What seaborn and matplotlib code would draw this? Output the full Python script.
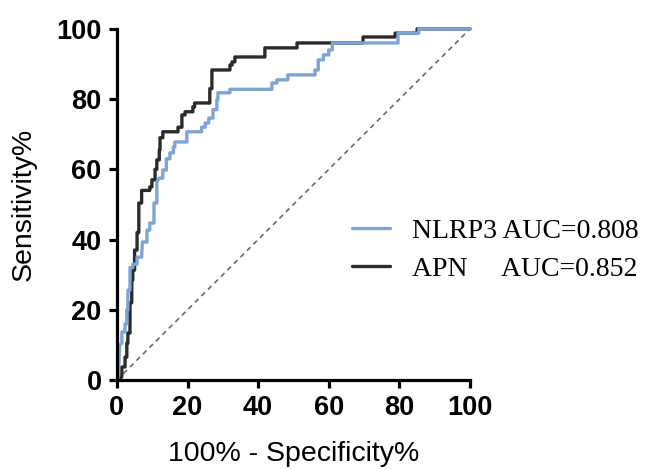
import pandas as pd
import matplotlib
matplotlib.use('Agg')
import matplotlib.pyplot as plt
import seaborn as sns

# ROC step curves (100% - specificity, sensitivity)
apn_fpr = [0, 0.5, 1.4, 1.4, 2.3, 2.3, 2.8, 2.8, 3.1, 3.1, 3.7, 3.7, 4.2, 4.2, 4.5, 4.5,
           5.0, 5.0, 5.7, 5.7, 6.2, 6.2, 7.0, 7.0, 9.3, 9.3, 9.9, 9.9, 10.8, 10.8,
           11.3, 11.3, 12.0, 12.0, 12.2, 12.2, 13.0, 13.0, 17.3, 17.3, 18.4, 18.4,
           19.3, 19.3, 21.5, 21.5, 22.0, 22.0, 26.3, 26.3, 26.9, 26.9, 32.0, 32.0,
           32.6, 32.6, 33.4, 33.4, 41.9, 41.9, 51.0, 51.0, 69.7, 69.7, 78.8, 78.8,
           85.0, 85.0, 100]
apn_tpr = [0, 0, 1.0, 3.7, 3.7, 6.5, 6.5, 10.5, 10.5, 13.4, 13.4, 22.0, 22.0, 28.5, 28.5, 31.3,
           31.3, 37.0, 37.0, 42.0, 42.0, 50.4, 50.4, 54.0, 54.0, 55.0, 55.0, 57.0, 57.0, 60.0,
           60.0, 62.7, 62.7, 65.5, 65.5, 69.0, 69.0, 70.7, 70.7, 72.0, 72.0, 75.5,
           75.5, 76.4, 76.4, 77.8, 77.8, 78.9, 78.9, 83.0, 83.0, 88.3, 88.3, 89.7,
           89.7, 90.6, 90.6, 92.0, 92.0, 94.6, 94.6, 96.0, 96.0, 97.7, 97.7, 98.8,
           98.8, 100, 100]

nlrp3_fpr = [0, 0.3, 0.8, 1.4, 1.4, 2.3, 2.3, 2.8, 2.8, 3.1, 3.1, 3.7, 3.7, 4.5, 4.5, 5.7,
             5.7, 7.0, 7.2, 8.5, 8.5, 9.3, 9.3, 10.5, 10.5, 11.3, 11.3, 12.0, 13.0, 13.0,
             14.0, 14.0, 15.0, 15.0, 16.0, 16.0, 16.4, 16.4, 19.8, 19.8, 24.0, 24.0,
             25.0, 25.0, 26.0, 26.0, 27.2, 27.2, 28.3, 28.3, 28.6, 28.6, 32.0, 32.0,
             43.9, 43.9, 45.3, 45.3, 48.4, 48.4, 56.1, 56.1, 57.0, 57.0,
             58.5, 58.5, 60.0, 60.0, 61.0, 61.0, 79.6, 79.6, 85.5, 85.5, 100]
nlrp3_tpr = [0, 0, 10.0, 10.5, 13.7, 13.7, 16.0, 16.0, 20.0, 20.0, 25.6, 25.6, 32.0, 32.0, 33.0, 33.0,
             35.0, 35.0, 39.3, 39.3, 42.7, 42.7, 44.7, 44.7, 50.4, 50.4, 56.4, 57.5, 57.5, 59.8,
             59.8, 63.0, 63.0, 64.7, 64.7, 66.4, 66.4, 67.8, 67.8, 70.7, 70.7, 72.0,
             72.0, 73.2, 73.2, 74.6, 74.6, 77.0, 77.0, 79.8, 79.8, 81.8, 81.8, 82.8,
             82.8, 84.6, 84.6, 85.5, 85.5, 86.9, 86.9, 88.3, 88.3, 91.2,
             91.2, 92.6, 92.6, 94.0, 94.0, 96.0, 96.0, 98.8, 98.8, 100, 100]

ref_line = [0, 100]

labels = ['NLRP3 AUC=0.808', 'APN     AUC=0.852']

sns.set_style('ticks')
plt.rcParams['font.family'] = ['Liberation Sans', 'DejaVu Sans']
plt.rcParams['text.color'] = 'black'
plt.rcParams['axes.labelcolor'] = 'black'
plt.rcParams['xtick.color'] = 'black'
plt.rcParams['ytick.color'] = 'black'

fig = plt.figure(figsize=(6.46, 4.70), dpi=100)
ax = fig.add_axes([0.181, 0.1915, 0.5466, 0.747])

sns.lineplot(x=ref_line, y=ref_line, ax=ax, color='#6a6a6a', linewidth=1.2,
             linestyle=(0, (3, 2.5)), clip_on=False)
sns.lineplot(x=apn_fpr, y=apn_tpr, ax=ax, sort=False, estimator=None,
             color='#2b2b2b', linewidth=2.4, clip_on=False, label=labels[1])
sns.lineplot(x=nlrp3_fpr, y=nlrp3_tpr, ax=ax, sort=False, estimator=None,
             color='#7ea4d6', linewidth=2.4, clip_on=False, label=labels[0])

ax.set_xlim(0, 100)
ax.set_ylim(0, 100)
ax.set_xticks([0, 20, 40, 60, 80, 100])
ax.set_yticks([0, 20, 40, 60, 80, 100])
sns.despine(ax=ax)
for s in ['left', 'bottom']:
    ax.spines[s].set_linewidth(2.3)
    ax.spines[s].set_color('black')
ax.tick_params(length=6, width=2.3, color='black', labelcolor='black', labelsize=19.5, pad=5)
for t in ax.get_xticklabels() + ax.get_yticklabels():
    t.set_fontweight('bold')

ax.set_xlabel('100% - Specificity%', fontsize=20.5, labelpad=14)
ax.set_ylabel('Sensitivity%', fontsize=20.5, labelpad=14)

# legend: NLRP3 first, APN second
h, l = ax.get_legend_handles_labels()
order = [l.index(labels[0]), l.index(labels[1])]
ax.legend([h[i] for i in order], [l[i] for i in order],
          loc='center left', bbox_to_anchor=(0.545, 0.468), bbox_transform=fig.transFigure,
          frameon=False, borderpad=0, borderaxespad=0, handlelength=1.35, handletextpad=0.8,
          labelspacing=0.45, prop={'family': 'Liberation Serif', 'size': 20})

fig.savefig('out.png', dpi=100)
